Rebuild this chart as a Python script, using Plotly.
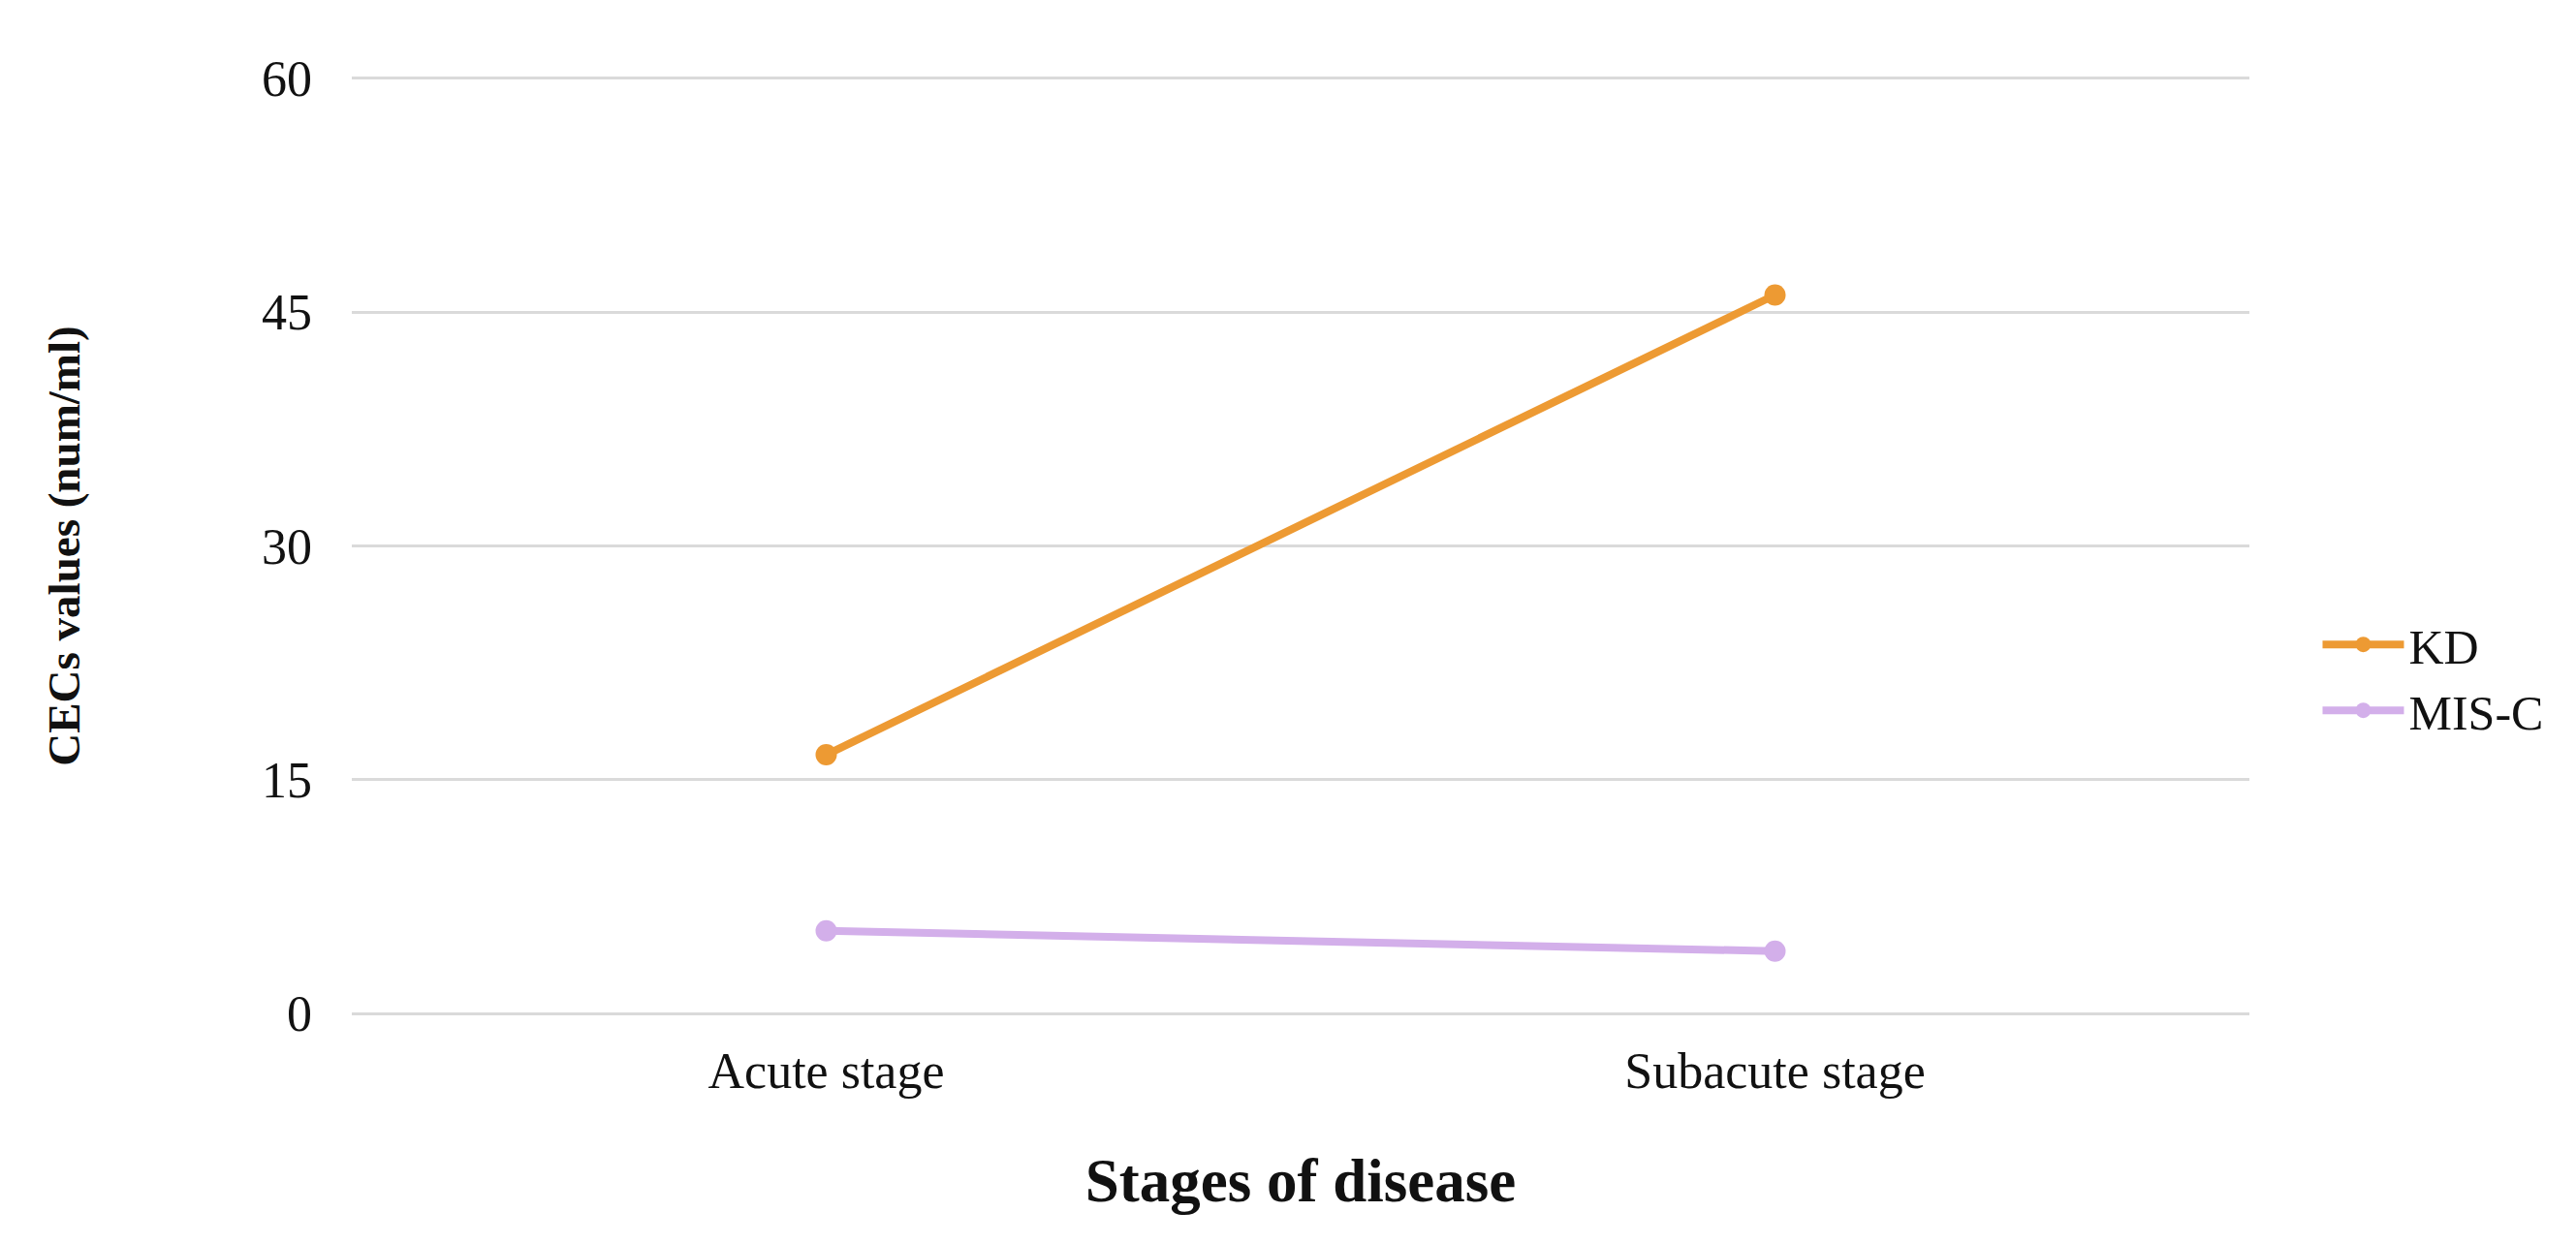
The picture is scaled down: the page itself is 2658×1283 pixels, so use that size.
import plotly.graph_objects as go

stages = ["Acute stage", "Subacute stage"]
kd_values = [16.6, 46.1]
misc_values = [5.3, 4.0]
y_ticks = [0, 15, 30, 45, 60]

KD_COLOR = "#ED9A33"
MISC_COLOR = "#D3AFEA"
FONT = "Liberation Serif, Times New Roman, serif"

fig = go.Figure()
fig.add_trace(go.Scatter(
    x=stages, y=kd_values, name="KD", mode="lines+markers",
    line=dict(color=KD_COLOR, width=8),
    marker=dict(color=KD_COLOR, size=22),
))
fig.add_trace(go.Scatter(
    x=stages, y=misc_values, name="MIS-C", mode="lines+markers",
    line=dict(color=MISC_COLOR, width=8),
    marker=dict(color=MISC_COLOR, size=22),
))

fig.update_layout(
    width=2658, height=1283,
    paper_bgcolor="white", plot_bgcolor="white",
    margin=dict(l=355, r=345, t=71, b=243),
    font=dict(family=FONT, size=52, color="#111111"),
    showlegend=True,
    legend=dict(
        x=1.036, y=0.36, xanchor="left", yanchor="middle",
        font=dict(family=FONT, size=50, color="#111111"),
        bgcolor="rgba(0,0,0,0)", tracegroupgap=0, itemwidth=84,
    ),
    xaxis=dict(
        type="category", range=[-0.5, 1.5],
        showgrid=False, showline=False, zeroline=False, ticks="",
        ticklabelstandoff=22,
        tickfont=dict(family=FONT, size=52, color="#111111"),
        title=dict(text="<b>Stages of disease</b>", standoff=62,
                   font=dict(family=FONT, size=63, color="#111111")),
    ),
    yaxis=dict(
        range=[-0.12, 60.12], tickvals=y_ticks,
        showgrid=True, gridcolor="#DADADA", gridwidth=3,
        zeroline=False, showline=False, ticks="",
        ticklabelstandoff=40,
        tickfont=dict(family=FONT, size=52, color="#111111"),
        title=dict(text="<b>CECs values (num/ml)</b>", standoff=172,
                   font=dict(family=FONT, size=47, color="#111111")),
    ),
)

fig.write_html("out.html")
